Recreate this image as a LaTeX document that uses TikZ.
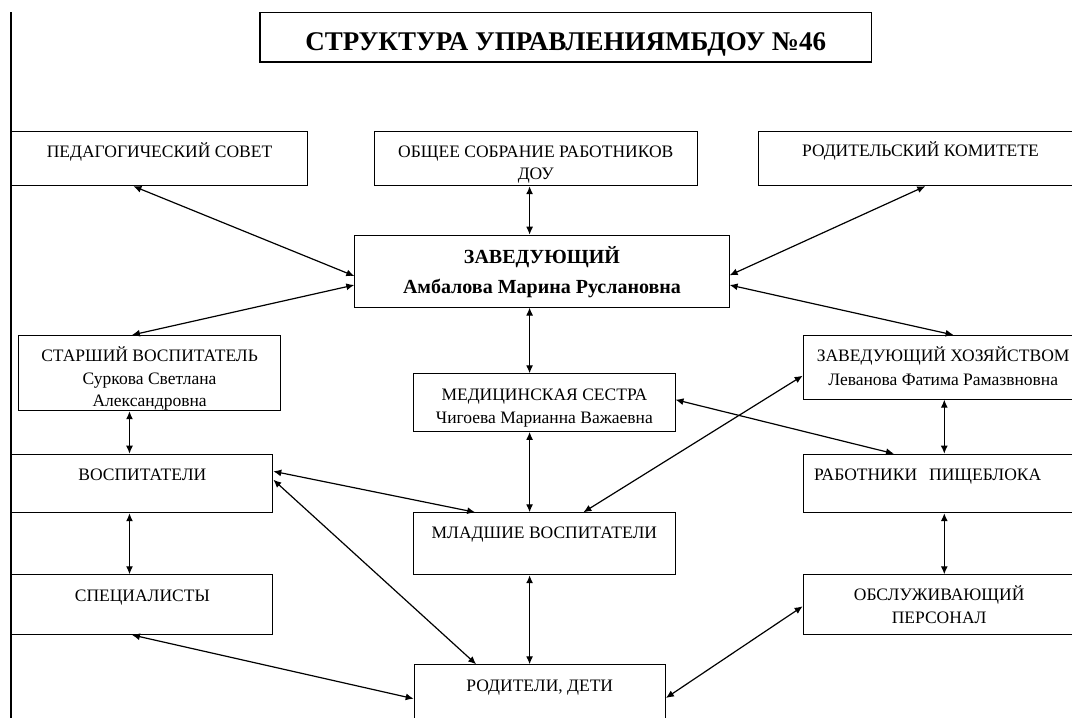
\documentclass[tikz,border=0pt]{standalone}
\usepackage{fontspec}
\setmainfont{Liberation Serif}
\usetikzlibrary{arrows.meta,calc}

\newcommand{\normsize}{\fontsize{17.5}{23}\selectfont}

\begin{document}
\begin{tikzpicture}[x=1pt, y=-1pt,
    unit/.style 2 args={draw, line width=0.9pt, anchor=north west, inner sep=0pt,
        minimum width=#1, minimum height=#2},
    caption/.style={anchor=base, align=center, inner sep=0pt, font=\normsize},
    link/.style={{Latex[length=8pt,width=7pt]}-{Latex[length=8pt,width=7pt]}, line width=1.2pt}
]
    \useasboundingbox (0,0) rectangle (1072,718);
    \clip (0,0) rectangle (1072,718);

    \draw[line width=2pt] (11.4,12) -- (11.4,718);

    \node[unit={611.6pt}{49.3pt}, line width=1.2pt] (title) at (259.3,12) {};
    \node[caption, font=\fontsize{27}{30}\selectfont\bfseries] (title text) at ([yshift=-38pt]title.north) {СТРУКТУРА УПРАВЛЕНИЯМБДОУ №46};

    \node[unit={295.4pt}{54.3pt}] (pedagogical council) at (11.4,131) {};
    \node[unit={322.7pt}{54.3pt}] (general meeting) at (374,131) {};
    \node[unit={324pt}{54.3pt}] (parent committee) at (758,131) {};
    \node[unit={374.4pt}{72pt}] (head) at (354.3,234.7) {};
    \node[unit={261.7pt}{75.3pt}] (senior teacher) at (18.3,335) {};
    \node[unit={280pt}{63.7pt}] (household head) at (802.7,335) {};
    \node[unit={261.4pt}{57.7pt}] (nurse) at (413.2,373.3) {};
    \node[unit={261pt}{58.6pt}] (teachers) at (11.4,453.7) {};
    \node[unit={280pt}{58.6pt}] (kitchen staff) at (802.7,453.7) {};
    \node[unit={261.4pt}{62pt}] (junior teachers) at (413.2,512.3) {};
    \node[unit={261pt}{59.7pt}] (specialists) at (11.4,574.3) {};
    \node[unit={280pt}{59.7pt}] (service staff) at (802.7,574.3) {};
    \node[unit={251.3pt}{70pt}] (parents children) at (413.7,664.3) {};

    \node[caption] (pedagogical council text) at ([yshift=-26.5pt]pedagogical council.north) {ПЕДАГОГИЧЕСКИЙ СОВЕТ};
    \node[caption, font=\fontsize{17.5}{22}\selectfont] (general meeting text) at ([yshift=-48.5pt]general meeting.north) {ОБЩЕЕ СОБРАНИЕ РАБОТНИКОВ\\ДОУ};
    \node[caption] (parent committee text) at ([yshift=-25.7pt]parent committee.north) {РОДИТЕЛЬСКИЙ КОМИТЕТЕ};
    \node[caption, font=\fontsize{20}{30}\selectfont\bfseries] (head text) at ([yshift=-58.6pt]head.north) {ЗАВЕДУЮЩИЙ\\Амбалова Марина Руслановна};
    \node[caption, font=\fontsize{17.5}{22.5}\selectfont] (senior teacher text) at ([yshift=-71.5pt]senior teacher.north) {СТАРШИЙ ВОСПИТАТЕЛЬ\\Суркова Светлана\\Александровна};
    \node[caption, font=\fontsize{17.5}{24}\selectfont] (household head text) at ([yshift=-50pt]household head.north) {ЗАВЕДУЮЩИЙ ХОЗЯЙСТВОМ\\Леванова Фатима Рамазвновна};
    \node[caption, font=\fontsize{17.5}{23.3}\selectfont] (nurse text) at ([yshift=-50pt]nurse.north) {МЕДИЦИНСКАЯ СЕСТРА\\Чигоева Марианна Важаевна};
    \node[caption] (teachers text) at ([yshift=-26.8pt]teachers.north) {ВОСПИТАТЕЛИ};
    \node[caption, anchor=base west] (kitchen staff text) at ([xshift=11.3pt,yshift=-26.3pt]kitchen staff.north west) {РАБОТНИКИ\hspace{12pt}ПИЩЕБЛОКА};
    \node[caption] (junior teachers text) at ([yshift=-26.5pt]junior teachers.north) {МЛАДШИЕ ВОСПИТАТЕЛИ};
    \node[caption] (specialists text) at ([yshift=-26.8pt]specialists.north) {СПЕЦИАЛИСТЫ};
    \node[caption] (service staff text) at ([xshift=-4pt,yshift=-49pt]service staff.north) {ОБСЛУЖИВАЮЩИЙ\\ПЕРСОНАЛ};
    \node[caption] (parents children text) at ([yshift=-26.7pt]parents children.north) {РОДИТЕЛИ, ДЕТИ};

    \coordinate (left column) at (129.5,0);
    \coordinate (middle column) at (529.6,0);
    \coordinate (right column) at (944.3,0);

    \draw[link] ([xshift=122pt]pedagogical council.south west) -- ([yshift=-41.3pt]head.north west);
    \draw[link] (middle column |- general meeting.south) -- (middle column |- head.north);
    \draw[link] ([xshift=167.3pt]parent committee.south west) -- ([yshift=-40.6pt]head.north east);
    \draw[link] ([yshift=-50.3pt]head.north west) -- ([xshift=113.6pt]senior teacher.north west);
    \draw[link] ([yshift=-50.3pt]head.north east) -- ([xshift=150.9pt]household head.north west);
    \draw[link] (middle column |- head.south) -- (middle column |- nurse.north);

    \draw[link] (left column |- senior teacher.south) -- (left column |- teachers.north);
    \draw[link] (left column |- teachers.south) -- (left column |- specialists.north);
    \draw[link] (middle column |- nurse.south) -- (middle column |- junior teachers.north);
    \draw[link] (middle column |- junior teachers.south) -- (middle column |- parents children.north);
    \draw[link] (right column |- household head.south) -- (right column |- kitchen staff.north);
    \draw[link] (right column |- kitchen staff.south) -- (right column |- service staff.north);

    \draw[link] ([yshift=-17.6pt]teachers.north east) -- ([xshift=62pt]junior teachers.north west);
    \draw[link] ([yshift=-26pt]teachers.north east) -- ([xshift=62.5pt]parents children.north west);
    \draw[link] ([xshift=120.5pt]specialists.south west) -- ([yshift=-34.4pt]parents children.north west);
    \draw[link] ([xshift=170.2pt]junior teachers.north west) -- ([yshift=-40.7pt]household head.north west);
    \draw[link] ([yshift=-26.4pt]nurse.north east) -- ([xshift=91.3pt]kitchen staff.north west);
    \draw[link] ([yshift=-33.7pt]parents children.north east) -- ([yshift=-32pt]service staff.north west);
\end{tikzpicture}
\end{document}
